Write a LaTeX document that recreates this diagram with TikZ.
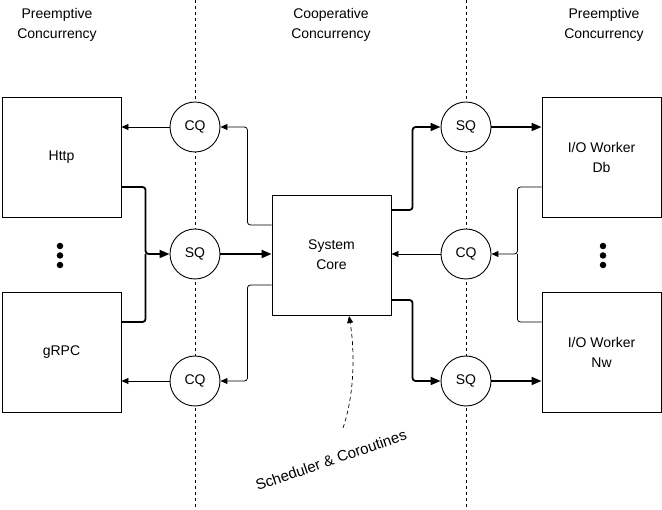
\documentclass[tikz,border=0pt]{standalone}
\usepackage{fontspec}
\setmainfont{Liberation Sans}
\usetikzlibrary{arrows.meta}

\begin{document}
\begin{tikzpicture}[x=1pt,y=-1pt,
   font=\fontsize{14}{20}\selectfont,
   box/.style={draw, line width=.9pt, minimum width=119pt, minimum height=120pt, align=center, inner sep=0pt},
   queue/.style={draw, line width=.9pt, circle, minimum size=50pt, inner sep=0pt, fill=white},
   dot/.style={circle, fill, inner sep=2.3pt},
   thinline/.style={line width=.8pt, rounded corners=3pt},
   thickline/.style={line width=1.8pt, rounded corners=3pt},
   thinarrow/.style={thinline, -{Triangle[length=7pt,width=6pt]}},
   thickarrow/.style={thickline, -{Triangle[length=10pt,width=8pt]}}]
 \useasboundingbox (0,0) rectangle (662,510);
   \node (h1) [align=center] at (57,25) {Preemptive\\Concurrency};
   \node (h2) [align=center] at (331,25) {Cooperative\\Concurrency};
   \node (h3) [align=center] at (604,25) {Preemptive\\Concurrency};
   \coordinate (l1) at (195,0);  \coordinate (l2) at (195,510);
   \coordinate (r1) at (466,0);  \coordinate (r2) at (466,510);
   \draw [dash pattern=on 3pt off 3pt, line width=.7pt] (l1) -- (l2);
   \draw [dash pattern=on 3pt off 3pt, line width=.7pt] (r1) -- (r2);
 % boxes
   \node (http) [box] at (61.5,157) {Http};
   \node (grpc) [box] at (61.5,352) {gRPC};
   \node (core) [box] at (331.5,255) {System\\Core};
   \node (db) [box] at (601.5,157) {I/O Worker\\Db};
   \node (nw) [box] at (601.5,352) {I/O Worker\\Nw};
 % queues
   \node (cq1) [queue] at (195,127) {CQ};
   \node (sq1) [queue] at (195,254) {SQ};
   \node (cq3) [queue] at (195,381) {CQ};
   \node (sq2) [queue] at (466,127) {SQ};
   \node (cq2) [queue] at (466,254) {CQ};
   \node (sq3) [queue] at (466,381) {SQ};
 % dots
   \foreach \y/\n in {246/a,255.5/b,265/c} {
     \node (ld\n) [dot] at (60,\y) {};
     \node (rd\n) [dot] at (603,\y) {};
   }
 % left side
   \draw [thinarrow] (cq1) -- (http.east |- cq1);
   \draw [thinarrow] (cq3) -- (grpc.east |- cq3);
   \draw [thinarrow] ([yshift=30]core.west) -| ([xshift=27]cq1.east) -- (cq1.east);
   \draw [thinarrow] ([yshift=-30]core.west) -| ([xshift=27]cq3.east) -- (cq3.east);
   \draw [thickarrow] ([yshift=-30]http.east) -| ([xshift=-24]sq1.west) -- (sq1.west);
   \draw [thickline] ([yshift=30]grpc.east) -| ([xshift=-24]sq1.west);
   \draw [thickarrow] (sq1) -- (core.west |- sq1);
 % right side
   \draw [thickarrow] ([yshift=45]core.east) -| ([xshift=-28]sq2.west) -- (sq2.west);
   \draw [thickarrow] ([yshift=-45]core.east) -| ([xshift=-28]sq3.west) -- (sq3.west);
   \draw [thickarrow] (sq2) -- (db.west |- sq2);
   \draw [thickarrow] (sq3) -- (nw.west |- sq3);
   \draw [thinarrow] ([yshift=-30]db.west) -| ([xshift=26]cq2.east) -- (cq2.east);
   \draw [thinline] ([yshift=30]nw.west) -| ([xshift=26]cq2.east);
   \draw [thinarrow] (cq2) -- (core.east |- cq2);
 % scheduler note
   \coordinate (hook) at (349,316);
   \coordinate (tail) at (343,428);
   \draw [thinarrow, dash pattern=on 4pt off 3pt, line width=.7pt]
     (tail) .. controls (356,390) and (354,345) .. (hook);
   \node (sched) [rotate=19, font=\fontsize{15}{18}\selectfont] at (331,460) {Scheduler \& Coroutines};
\end{tikzpicture}
\end{document}
